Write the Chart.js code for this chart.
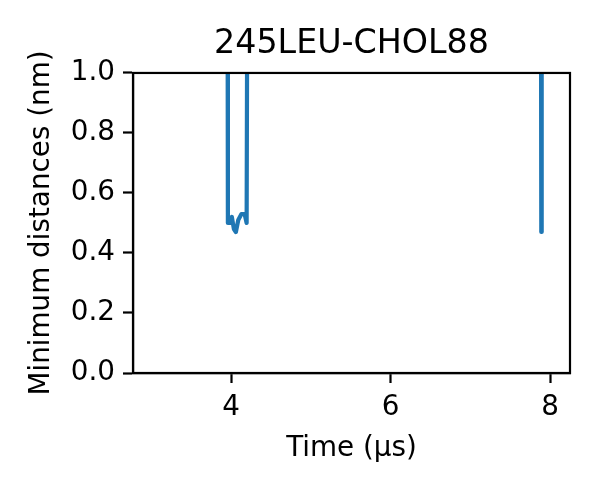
<!DOCTYPE html>
<html>
<head>
<meta charset="utf-8">
<script src="https://cdn.jsdelivr.net/npm/chart.js@4"></script>
<style>
  html, body { margin: 0; padding: 0; background: white; }
  #c { display: block; }
</style>
</head>
<body>
<canvas id="c" width="600" height="500"></canvas>
<script>
// data (time in us, distance in nm; values > 1 fall off the top)
const times = [2.75, 3.955, 3.96, 3.985, 4.01, 4.035, 4.06, 4.09, 4.13, 4.17, 4.195, 4.205, 7.885, 7.89, 7.895, 8.25];
const distances = [1.5, 1.5, 0.50, 0.50, 0.52, 0.48, 0.47, 0.51, 0.53, 0.53, 0.50, 1.5, 1.5, 0.47, 1.5, 1.5];
const xTicks = [4, 6, 8];
const yTicks = [0.0, 0.2, 0.4, 0.6, 0.8, 1.0];

const FONT = "'DejaVu Sans', sans-serif";

// put the title over the plot area (matplotlib style)
const centerTitle = {
    id: "centerTitle",
    afterLayout(chart) {
        chart.titleBlock.left = chart.chartArea.left;
        chart.titleBlock.right = chart.chartArea.right;
    }
};

// top + right spines
const frame = {
    id: "frame",
    afterDatasetsDraw(chart) {
        const { ctx, chartArea: a } = chart;
        ctx.save();
        ctx.strokeStyle = "black";
        ctx.lineWidth = 2.2;
        ctx.strokeRect(a.left, a.top, a.right - a.left, a.bottom - a.top);
        ctx.restore();
    }
};

new Chart(document.getElementById("c"), {
    type: "line",
    data: {
        datasets: [{
            data: times.map((t, i) => ({ x: t, y: distances[i] })),
            borderColor: "#1f77b4",
            borderWidth: 4.2,
            borderJoinStyle: "round",
            pointRadius: 0,
            tension: 0,
            fill: false
        }]
    },
    options: {
        responsive: false,
        animation: false,
        layout: { padding: { left: 0, right: 30, top: 0, bottom: 0 } },
        plugins: {
            legend: { display: false },
            tooltip: { enabled: false },
            title: {
                display: true,
                text: "245LEU-CHOL88",
                color: "black",
                font: { family: FONT, size: 33.3, weight: "normal", lineHeight: 1.2 },
                padding: { top: 24, bottom: 9 }
            }
        },
        scales: {
            x: {
                type: "linear",
                min: 2.77,
                max: 8.25,
                afterFit(s) { s.height = 127; },
                afterBuildTicks(s) { s.ticks = xTicks.map(v => ({ value: v })); },
                grid: { drawOnChartArea: false, drawTicks: true, tickLength: 10, tickWidth: 2.2, tickColor: "black" },
                border: { display: true, color: "black", width: 2.2 },
                ticks: { color: "black", padding: 8, maxRotation: 0, font: { family: FONT, size: 27.8 } },
                title: {
                    display: true,
                    text: "Time (μs)",
                    color: "black",
                    font: { family: FONT, size: 27.8 },
                    padding: { top: 0, bottom: 35 }
                }
            },
            y: {
                type: "linear",
                min: 0,
                max: 1,
                afterFit(s) { s.width = 133; },
                afterBuildTicks(s) { s.ticks = yTicks.map(v => ({ value: v })); },
                grid: { drawOnChartArea: false, drawTicks: true, tickLength: 10, tickWidth: 2.2, tickColor: "black" },
                border: { display: true, color: "black", width: 2.2 },
                ticks: {
                    color: "black", padding: 8,
                    font: { family: FONT, size: 27.8 },
                    callback: v => v.toFixed(1)
                },
                title: {
                    display: true,
                    text: "Minimum distances (nm)",
                    color: "black",
                    font: { family: FONT, size: 27.8 },
                    padding: { top: 25, bottom: 0 }
                }
            }
        }
    },
    plugins: [centerTitle, frame]
});
</script>
</body>
</html>
